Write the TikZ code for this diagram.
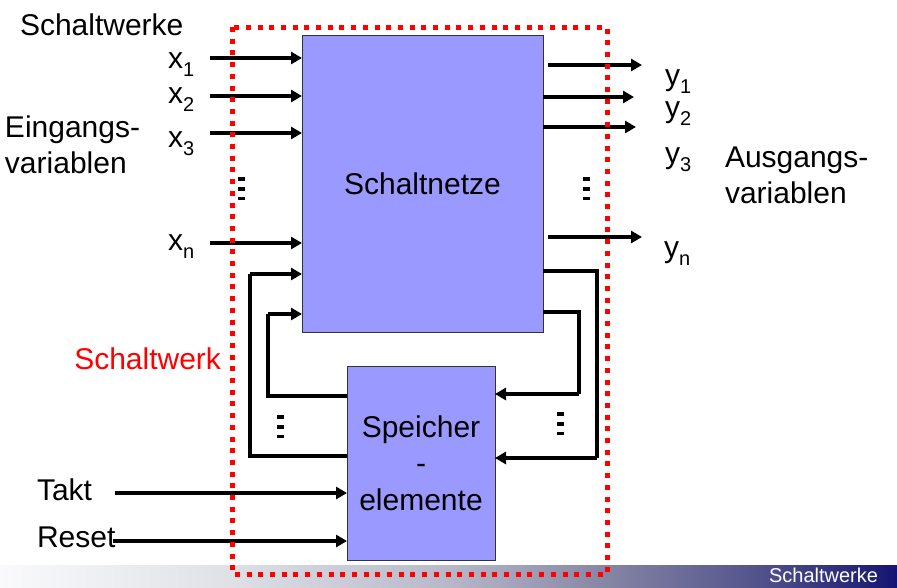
\documentclass[tikz,border=0pt]{standalone}
\usepackage{fontspec}
\setmainfont{Liberation Sans}
\usetikzlibrary{arrows.meta}
\definecolor{boxfill}{HTML}{9999FF}
\definecolor{dotred}{HTML}{FF0000}
\pgfdeclarehorizontalshading{barshade}{100bp}{rgb(0bp)=(0.98,0.98,0.99); rgb(25bp)=(0.98,0.98,0.99); rgb(38bp)=(0.87,0.88,0.90); rgb(50bp)=(0.72,0.72,0.79); rgb(58.5bp)=(0.53,0.53,0.65); rgb(67bp)=(0.33,0.33,0.55); rgb(75bp)=(0.08,0.08,0.45); rgb(100bp)=(0.08,0.08,0.45)}
\newcommand\subl[2]{#1{\fontsize{20}{20}\selectfont\raisebox{-8.5pt}{#2}}}
\tikzset{
  txt/.style={inner sep=0pt, outer sep=0pt, anchor=base west, font=\fontsize{30}{36.5}\selectfont},
  blockbox/.style={draw=black!80, line width=1pt, fill=boxfill, inner sep=0pt, outer sep=0pt, anchor=north west, font=\fontsize{30}{36.5}\selectfont, align=center},
  arr/.style={line width=3.6pt, -{Triangle[length=11pt,width=12pt]}},
  fb/.style={line width=3.6pt, line join=miter},
  vdots/.style={fill=black, draw=none},
  reddots/.style={draw=dotred, line width=5pt, dash pattern=on 5pt off 6.7pt}
}
\begin{document}
\begin{tikzpicture}[x=1pt,y=-1pt]
\useasboundingbox (0,0) rectangle (897,587);
% bottom bar
\shade[shading=barshade] (0,565) rectangle (897,587);
\node[txt, anchor=base east, text=white, font=\fontsize{20}{20}\selectfont] (bartitle) at (878,582) {Schaltwerke};
% boxes
\node[blockbox, minimum width=241pt, minimum height=297pt] (sn) at (302,35) {Schaltnetze};
\node[blockbox, minimum width=148pt, minimum height=194pt] (sp) at (347,366) {Speicher\\-\\elemente};
% texts
\node[txt] (title) at (20,35) {Schaltwerke};
\node[txt] (ein1) at (5,137) {Eingangs-};
\node[txt] (ein2) at (5,173) {variablen};
\node[txt] (aus1) at (725,167) {Ausgangs-};
\node[txt] (aus2) at (725,203) {variablen};
\node[txt, anchor=base east, text=dotred] (swk) at (221,369) {Schaltwerk};
\node[txt] (takt) at (37,500) {Takt};
\node[txt] (reset) at (37,547) {Reset};
\node[txt] (lx1) at (168,68) {\subl{x}{1}};
\node[txt] (lx2) at (168,103) {\subl{x}{2}};
\node[txt] (lx3) at (168,147) {\subl{x}{3}};
\node[txt] (lxn) at (168,250) {\subl{x}{n}};
\node[txt] (ly1) at (665,85) {\subl{y}{1}};
\node[txt] (ly2) at (665,117) {\subl{y}{2}};
\node[txt] (ly3) at (665,163) {\subl{y}{3}};
\node[txt] (lyn) at (664,257) {\subl{y}{n}};
% input arrows
\coordinate (i1) at (210,58);
\coordinate (i2) at (210,96);
\coordinate (i3) at (210,133);
\coordinate (in) at (210,243);
\foreach \c in {i1,i2,i3,in} \draw[arr] (\c) -- (\c -| sn.west);
% output arrows
\coordinate (o1s) at (548,65);  \coordinate (o1) at (642,65);
\coordinate (o2) at (634,97);
\coordinate (o3) at (636,127);
\coordinate (ons) at (548,237); \coordinate (on) at (642,237);
\draw[arr] (o1s) -- (o1);
\draw[arr] (o2 -| sn.east) -- (o2);
\draw[arr] (o3 -| sn.east) -- (o3);
\draw[arr] (ons) -- (on);
% feedback left
\coordinate (lo) at (250,274);
\coordinate (li) at (268,314);
\draw[fb] (sp.west |- 0,456) -| (lo);
\draw[arr] (lo) -- (lo -| sn.west);
\draw[fb] (sp.west |- 0,396) -| (li);
\draw[arr] (li) -- (li -| sn.west);
% feedback right
\coordinate (ro) at (597,458);
\coordinate (ri) at (579,394);
\draw[fb] (sn.east |- 0,271) -| (ro);
\draw[arr] (ro) -- (ro -| sp.east);
\draw[fb] (sn.east |- 0,312) -| (ri);
\draw[arr] (ri) -- (ri -| sp.east);
% Takt / Reset
\coordinate (tk) at (115,493);
\coordinate (rs) at (113,541);
\draw[arr] (tk) -- (tk -| sp.west);
\draw[arr] (rs) -- (rs -| sp.west);
% vertical dots
\foreach \x/\y in {238/177, 583/177, 277/415, 557/412} {
  \fill[vdots] (\x,\y) rectangle ++(7,3.5);
  \fill[vdots] (\x,\y+10) rectangle ++(7,3.5);
  \fill[vdots] (\x,\y+19.5) rectangle ++(7,3.5);
}
% red dotted frame
\draw[reddots] (232,27) rectangle (607,574);
\end{tikzpicture}
\end{document}
